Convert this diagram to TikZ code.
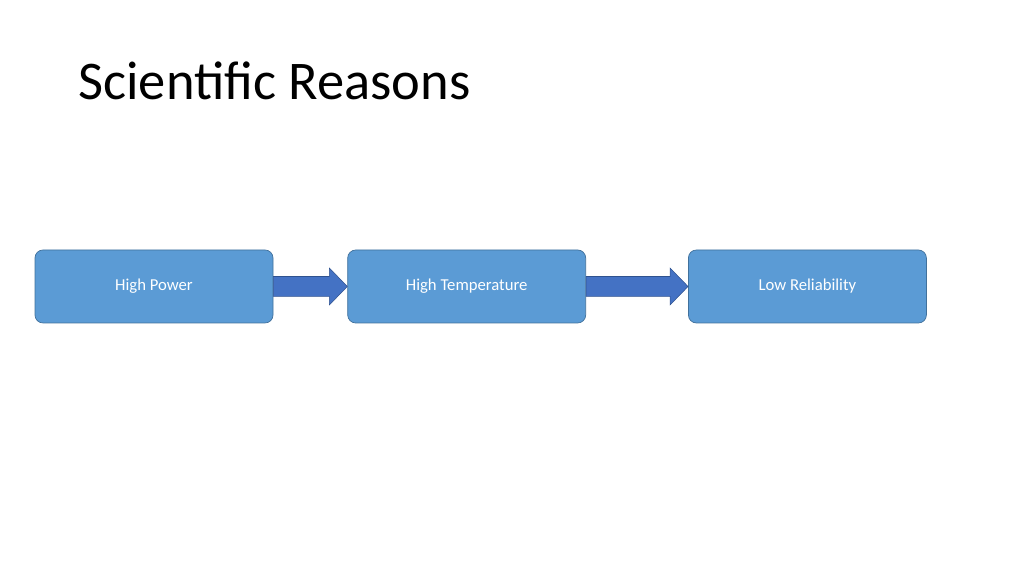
\documentclass[tikz,border=0pt]{standalone}
\usepackage{fontspec}
\setmainfont{Carlito}
\usepackage{xcolor}
\usetikzlibrary{positioning,calc}
\definecolor{boxfill}{HTML}{5B9BD5}
\definecolor{boxline}{HTML}{41719C}
\definecolor{arrowfill}{HTML}{4472C4}
\definecolor{arrowline}{HTML}{2F528F}
\tikzset{
    stage/.style={draw=boxline, fill=boxfill, rounded corners=0.16cm, minimum width=4.76cm,
        minimum height=1.46cm, text=white, font=\fontsize{9.5pt}{11pt}\selectfont, inner sep=0pt},
}
% block arrow between two nodes
\newcommand{\blockarrow}[2]{%
    \filldraw[fill=arrowfill, draw=arrowline, line width=0.3pt]
        ($(#1.east)+(0,0.2)$) -- ($(#2.west)+(-0.36,0.2)$) -- ($(#2.west)+(-0.36,0.37)$)
        -- (#2.west) -- ($(#2.west)+(-0.36,-0.37)$) -- ($(#2.west)+(-0.36,-0.2)$)
        -- ($(#1.east)+(0,-0.2)$) -- cycle;
}
\begin{document}
\begin{tikzpicture}
        \useasboundingbox (0,0) rectangle (20.48,11.5);
        % Titel
        \node[anchor=base west, inner sep=0pt, font=\fontsize{31pt}{36pt}\selectfont] (title) at (1.56,9.5) {Scientific Reasons};
        % Kaesten
        \node[stage] (power) at (3.08,5.77) {High Power};
        \node[stage, right=1.48cm of power] (temp) {High Temperature};
        \node[stage, right=2.04cm of temp] (rel) {Low Reliability};
        % Pfeile
        \blockarrow{power}{temp}
        \blockarrow{temp}{rel}
\end{tikzpicture}
\end{document}
